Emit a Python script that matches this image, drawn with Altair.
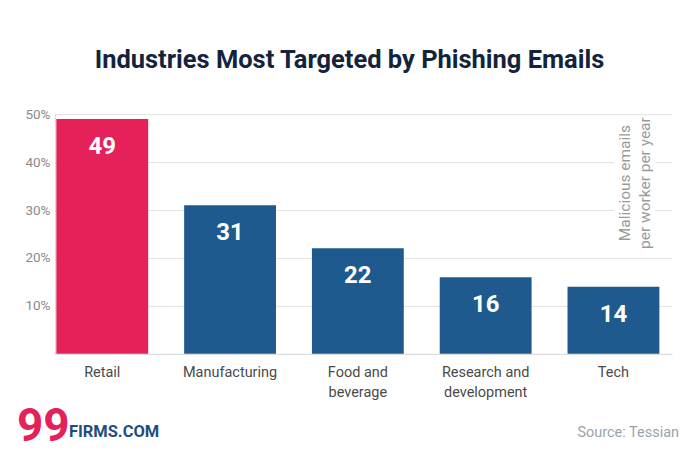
import altair as alt
import pandas as pd

categories = ["Retail", "Manufacturing", "Food and beverage", "Research and development", "Tech"]
values = [49, 31, 22, 16, 14]
y_ticks = [10, 20, 30, 40, 50]
title_text = "Industries Most Targeted by Phishing Emails"
annotation_lines = ["Malicious emails", "per worker per year"]
source_text = "Source: Tessian"

df = pd.DataFrame({"category": categories, "value": values})

FONT = "Roboto"
W, H = 618, 240

x_enc = alt.X(
    "category:N",
    sort=categories,
    scale=alt.Scale(paddingInner=0.28125, paddingOuter=0.055, align=0.1),
    axis=alt.Axis(
        title=None, labelAngle=0, ticks=False, labelPadding=12,
        labelFontSize=14.5, labelColor="#4a4a4a", labelFont=FONT,
        labelLineHeight=20, labelBaseline="top",
        domainColor="#d6d6d6", domainWidth=1,
        labelExpr="datum.value == 'Food and beverage' ? ['Food and', 'beverage'] : datum.value == 'Research and development' ? ['Research and', 'development'] : datum.label",
    ),
)
y_enc = alt.Y(
    "value:Q",
    scale=alt.Scale(domain=[0, 50], nice=False),
    axis=alt.Axis(
        title=None, values=y_ticks, ticks=False, labelPadding=5,
        labelExpr="datum.value + '%'", labelFontSize=13.5, labelColor="#8a8a8a",
        labelFont=FONT, gridColor="#e2e2e2", domainColor="#d6d6d6",
    ),
)

base = alt.Chart(df)

# white patch behind the rotated annotation (breaks gridlines)
patch = alt.Chart(pd.DataFrame({"k": [0]})).mark_rect(color="white").encode(
    x=alt.value(560), x2=alt.value(601), y=alt.value(8), y2=alt.value(140)
)

bars = base.mark_bar().encode(
    x=x_enc,
    y=y_enc,
    color=alt.condition(alt.datum.category == "Retail", alt.value("#E5215A"), alt.value("#1E5A8E")),
)

labels = base.mark_text(
    color="white", font=FONT, fontSize=24, fontWeight="bold", baseline="alphabetic", dy=35
).encode(
    x=alt.X("category:N", sort=categories),
    y="value:Q",
    text="value:Q",
)

title = alt.Chart(pd.DataFrame({"t": [title_text]})).mark_text(
    font=FONT, fontSize=25.5, fontWeight="bold", color="#14233c", align="center", baseline="alphabetic"
).encode(x=alt.value(295), y=alt.value(-46), text="t:N")

annot = alt.Chart(pd.DataFrame({"t": [annotation_lines]})).mark_text(
    font=FONT, fontSize=15.5, color="#9a9a9a", angle=270, align="center",
    baseline="middle", lineHeight=20
).encode(x=alt.value(571), y=alt.value(69), text="t")

logo99 = alt.Chart(pd.DataFrame({"t": ["99"]})).mark_text(
    font=FONT, fontSize=46, fontWeight="bold", color="#E5215A",
    align="left", baseline="alphabetic"
).encode(x=alt.value(-38), y=alt.value(327), text="t:N")

logo_txt = alt.Chart(pd.DataFrame({"t": ["FIRMS.COM"]})).mark_text(
    font=FONT, fontSize=16.5, fontWeight="bold", color="#1E4E7E",
    align="left", baseline="alphabetic"
).encode(x=alt.value(14), y=alt.value(323), text="t:N")

source = alt.Chart(pd.DataFrame({"t": [source_text]})).mark_text(
    font=FONT, fontSize=14.5, color="#9aa3ab", align="right", baseline="alphabetic"
).encode(x=alt.value(625), y=alt.value(323), text="t:N")

chart = alt.layer(bars, patch, labels, annot, title, logo99, logo_txt, source).properties(
    width=W, height=H,
    autosize=alt.AutoSizeParams(type="none"),
    padding={"left": 47, "top": 106, "right": 20, "bottom": 100},
    background="white",
).configure_view(stroke=None)

chart.save("out.html", embed_options={"renderer": "svg", "actions": False})
